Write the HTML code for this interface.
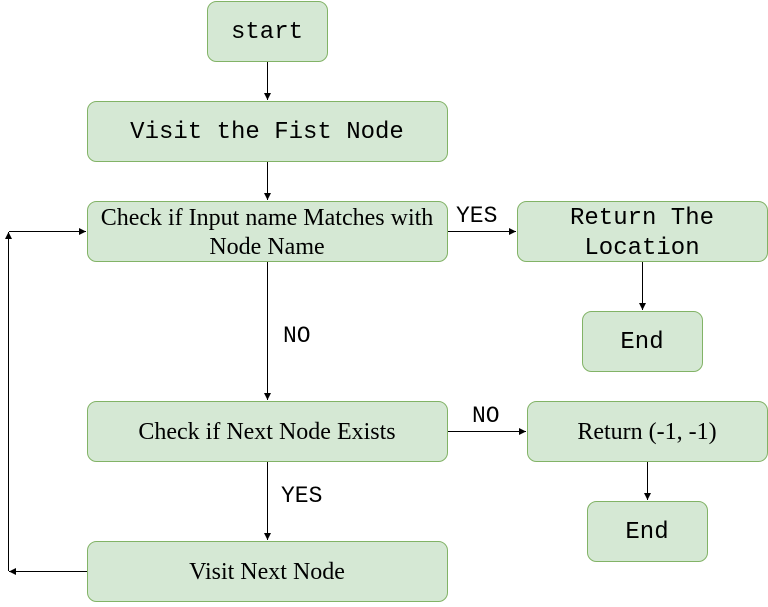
<!DOCTYPE html>
<html><head><meta charset="utf-8"><style>body{margin:0;background:#fff}</style></head>
<body>
<svg width="768" height="602" viewBox="0 0 768 602" xmlns="http://www.w3.org/2000/svg">
<defs><marker id="a" markerWidth="8" markerHeight="8" refX="7" refY="4" orient="auto" markerUnits="userSpaceOnUse"><path d="M0,0.5 L7,4 L0,7.5 z" fill="#000"/></marker></defs>
<g fill="#d5e8d4" stroke="#82b366" stroke-width="1">
<rect x="207.5" y="1.5" width="120" height="60" rx="9"/>
<rect x="87.5" y="101.5" width="360" height="60" rx="9"/>
<rect x="87.5" y="201.5" width="360" height="60" rx="9"/>
<rect x="517.5" y="201.5" width="250" height="60" rx="9"/>
<rect x="582.5" y="311.5" width="120" height="60" rx="9"/>
<rect x="87.5" y="401.5" width="360" height="60" rx="9"/>
<rect x="527.5" y="401.5" width="240" height="60" rx="9"/>
<rect x="587.5" y="501.5" width="120" height="60" rx="9"/>
<rect x="87.5" y="541.5" width="360" height="60" rx="9"/>
</g>
<g stroke="#000" stroke-width="1" fill="none" marker-end="url(#a)">
<path d="M267.5 62 V100"/>
<path d="M267.5 162 V200"/>
<path d="M448 231.5 H516"/>
<path d="M267.5 262 V400"/>
<path d="M642.5 262 V310"/>
<path d="M448 431.5 H526"/>
<path d="M647.5 462 V500"/>
<path d="M267.5 462 V540"/>
<path d="M87 571.5 H9"/>
<path d="M8.5 571 V232"/>
<path d="M9 231.5 H86"/>
</g>
<g font-family="Liberation Mono, monospace" font-size="24" fill="#000" text-anchor="middle">
<text x="267" y="38">start</text>
<text x="267" y="138">Visit the Fist Node</text>
<text x="642" y="224">Return The</text>
<text x="642" y="254">Location</text>
<text x="642" y="348">End</text>
<text x="647" y="538">End</text>
</g>
<g font-family="Liberation Mono, monospace" font-size="23" fill="#000">
<text x="456" y="222">YES</text>
<text x="283" y="342">NO</text>
<text x="472" y="422">NO</text>
<text x="281" y="502">YES</text>
</g>
<g font-family="Liberation Serif, serif" font-size="24" fill="#000" text-anchor="middle">
<text x="267" y="225">Check if Input name Matches with</text>
<text x="267" y="254">Node Name</text>
<text x="267" y="439">Check if Next Node Exists</text>
<text x="647" y="439">Return (-1, -1)</text>
<text x="267" y="579">Visit Next Node</text>
</g>
</svg>
</body></html>
